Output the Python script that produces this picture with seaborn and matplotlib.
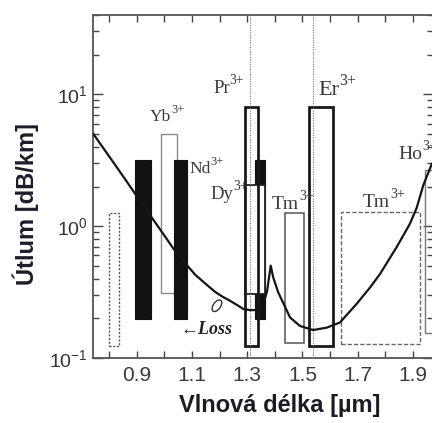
import numpy as np
import pandas as pd
import seaborn as sns
import matplotlib
matplotlib.use("Agg")
import matplotlib.pyplot as plt
from matplotlib.ticker import FixedLocator, MultipleLocator, LogLocator, NullFormatter
from matplotlib.markers import MarkerStyle
from matplotlib.transforms import Affine2D

# ---------------- data ----------------
loss_wl = [0.741, 0.78, 0.821, 0.86, 0.897, 0.93, 0.966, 1.0, 1.034, 1.07, 1.111,
           1.15, 1.183, 1.21, 1.237, 1.265, 1.286, 1.31, 1.328, 1.345, 1.36, 1.372,
           1.385, 1.394, 1.412, 1.432, 1.455, 1.491, 1.539, 1.588, 1.636, 1.696,
           1.745, 1.781, 1.841, 1.889, 1.914, 1.938, 1.969]
loss_db = [5.05, 3.87, 2.92, 2.23, 1.72, 1.37, 1.07, 0.847, 0.668, 0.539, 0.429,
           0.364, 0.318, 0.292, 0.272, 0.251, 0.235, 0.231, 0.231, 0.236, 0.263, 0.324,
           0.502, 0.409, 0.315, 0.257, 0.203, 0.175, 0.163, 0.170, 0.186, 0.257,
           0.343, 0.434, 0.692, 1.04, 1.38, 2.05, 2.98]

band_ion = ["", "Nd", "Yb", "Nd", "Pr", "Nd", "Dy", "Tm", "Er", "Tm", "Ho"]
band_start = [0.800, 0.893, 0.987, 1.0355, 1.290, 1.328, 1.290, 1.437, 1.524, 1.639, 1.944]
band_end = [0.836, 0.951, 1.047, 1.080, 1.338, 1.364, 1.364, 1.505, 1.609, 1.926, 2.050]
band_low = [0.124, 0.196, 0.31, 0.196, 0.124, 0.196, 0.307, 0.129, 0.124, 0.127, 0.156]
band_high = [1.26, 3.16, 5.0, 3.16, 8.0, 3.16, 2.04, 1.26, 8.0, 1.28, 2.66]

label_text = ["Yb", "Nd", "Pr", "Dy", "Tm", "Er", "Tm", "Ho"]
label_x = [0.947, 1.089, 1.176, 1.165, 1.389, 1.556, 1.720, 1.847]
label_y = [6.26, 2.52, 10.2, 1.6, 1.36, 9.88, 1.40, 3.26]
label_sup = "3+"

marker_lines = [1.310, 1.539]
x_ticks = [0.9, 1.1, 1.3, 1.5, 1.7, 1.9]

# ---------------- styling ----------------
sns.set_style("ticks")
plt.rcParams["font.family"] = ["Liberation Sans", "DejaVu Sans"]
plt.rcParams["mathtext.fontset"] = "stix"

fig = plt.figure(figsize=(4.32, 4.23), dpi=100)
ax = fig.add_axes([93 / 432, 1 - 358 / 423, 340 / 432, 343 / 423])
ax.set_yscale("log")
ax.set_xlim(0.741, 1.973)
ax.set_ylim(0.1, 40)

styles = [
    dict(facecolor="none", edgecolor="#555555", linewidth=1.0, linestyle=(0, (1.5, 1.2)), zorder=2),
    dict(facecolor="#111111", edgecolor="#111111", linewidth=0.8, zorder=3),
    dict(facecolor="white", edgecolor="#8a8a8a", linewidth=1.0, zorder=2),
    dict(facecolor="#111111", edgecolor="#111111", linewidth=0.8, zorder=3),
    dict(facecolor="none", edgecolor="#1a1a1a", linewidth=2.0, zorder=5),
    dict(facecolor="#111111", edgecolor="#111111", linewidth=0.8, zorder=3),
    dict(facecolor="white", edgecolor="#222222", linewidth=1.3, zorder=4),
    dict(facecolor="none", edgecolor="#555555", linewidth=1.1, zorder=2),
    dict(facecolor="none", edgecolor="#1a1a1a", linewidth=2.0, zorder=5),
    dict(facecolor="none", edgecolor="#666666", linewidth=1.0, linestyle=(0, (3, 1.5)), zorder=2),
    dict(facecolor="none", edgecolor="#777777", linewidth=1.0, zorder=2),
]
for s, e, lo, hi, st in zip(band_start, band_end, band_low, band_high, styles):
    ax.bar(s, hi - lo, width=e - s, bottom=lo, align="edge", **st)

for xv in marker_lines:
    ax.axvline(xv, color="#777777", linewidth=0.8, linestyle=(0, (1, 1.2)), zorder=6)

df = pd.DataFrame({"wl": loss_wl, "loss": loss_db})
sns.lineplot(data=df, x="wl", y="loss", ax=ax, color="#151515", linewidth=1.6,
             sort=False, zorder=7)

sizes = [12.5, 12.5, 13.5, 13.5, 14, 16, 14, 14]
for t, lx, ly, fs in zip(label_text, label_x, label_y, sizes):
    base = ax.text(lx, ly, t, fontsize=fs, color="#3a3a3a",
                   family="Liberation Serif", ha="left", va="baseline", zorder=8)
    ax.annotate(label_sup, xy=(1.0, 0.58), xycoords=base, fontsize=fs * 0.72,
                color="#3a3a3a", family="Liberation Serif", ha="left", va="bottom",
                zorder=8, annotation_clip=False)

ax.text(1.056, 0.153, "\u2190Loss", fontsize=13, color="#222222",
        family=["Liberation Serif", "DejaVu Serif"], style="italic", weight="bold",
        ha="left", va="baseline", zorder=8)
mk = MarkerStyle("o", transform=Affine2D().scale(0.55, 1.0).rotate_deg(-35))
ax.scatter([1.190], [0.249], s=90, marker=mk, facecolors="none",
           edgecolors="#333333", linewidths=1.0, zorder=8)

# ticks
ax.xaxis.set_major_locator(FixedLocator(x_ticks))
ax.xaxis.set_minor_locator(MultipleLocator(0.1))
ax.yaxis.set_major_locator(LogLocator(base=10))
ax.yaxis.set_minor_locator(LogLocator(base=10, subs=np.arange(2, 10)))
ax.yaxis.set_minor_formatter(NullFormatter())
ax.tick_params(axis="both", which="both", direction="in", top=True, right=True,
               color="#444444", width=1.0)
ax.tick_params(axis="x", which="both", length=5, labelsize=15, labelcolor="#3a3a3a", pad=6)
ax.tick_params(axis="y", which="major", length=7, labelsize=14, labelcolor="#333333", pad=4)
ax.tick_params(axis="y", which="minor", length=4)

for sp in ax.spines.values():
    sp.set_color("#555555")
    sp.set_linewidth(1.3)
    sp.set_visible(True)

ax.set_xlabel("Vlnová délka [µm]", fontsize=17, fontweight="bold", color="#1c1c24")
ax.set_ylabel("Útlum [dB/km]", fontsize=17, fontweight="bold", color="#1c1c2c")
ax.xaxis.set_label_coords(0.55, -0.105)
ax.yaxis.set_label_coords(-0.16, 0.45)

fig.savefig("out.png", dpi=100)
